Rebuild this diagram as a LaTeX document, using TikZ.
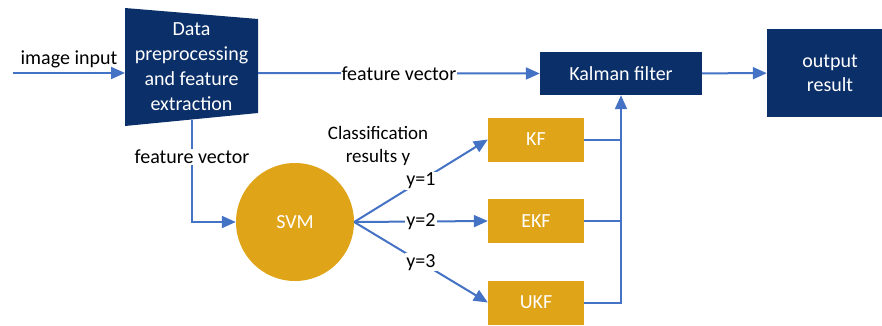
\documentclass[tikz,border=0pt]{standalone}
\usepackage{fontspec}
\setmainfont{Carlito}
\usetikzlibrary{arrows.meta}
\definecolor{navy}{HTML}{0B2F69}
\definecolor{gold}{HTML}{E0A418}
\definecolor{lineblue}{HTML}{4472C4}

\begin{document}
\begin{tikzpicture}[x=1pt,y=-1pt,
		every node/.style={font=\fontsize{20}{24}\selectfont},
		darkbox/.style={fill=navy,text=white,align=center,inner sep=0pt},
		goldbox/.style={fill=gold,text=white,minimum width=96pt,minimum height=44pt,inner sep=0pt},
		link/.style={draw=lineblue,line width=2pt},
		arr/.style={link,-{Triangle[length=14pt,width=12pt]}},
		lbl/.style={fill=white,inner sep=1pt}]
		\useasboundingbox (0,0) rectangle (882,325);
		\fill[navy] (125,8) -- (258,19) -- (258,113) -- (125,126) -- cycle;
		\node[text=white,align=center,font=\fontsize{20}{25}\selectfont] (dpfe) at (191.5,67) {Data\\preprocessing\\and feature\\extraction};
		\coordinate (imgin) at (13,73);
		\coordinate (dpin) at (125,73);
		\coordinate (dpout) at (258,73);
		\coordinate (dpbot) at (192,120);
		\node[darkbox,minimum width=162pt,minimum height=43pt] (kalman) at (621,73.5) {Kalman filter};
		\node[darkbox,minimum width=126pt,minimum height=88pt] (output) at (830,73) {output\\result};
		\node[circle,fill=gold,text=white,minimum size=118pt,inner sep=0pt] (svm) at (295,222) {SVM};
		\node[goldbox] (kf) at (536,139.5) {KF};
		\node[goldbox] (ekf) at (536,221) {EKF};
		\node[goldbox] (ukf) at (536,302.5) {UKF};
		\node[align=center,font=\fontsize{19}{23}\selectfont] (clsres) at (378,146) {Classification\\results y};
		\draw[arr] (imgin) -- node[above=1pt] {image input} (dpin);
		\draw[arr] (dpout) -- node[lbl] {feature vector} (kalman.west);
		\draw[arr] (kalman) -- (output);
		\draw[arr] (dpbot) |- node[lbl,pos=0.18] {feature vector} (svm.west);
		\draw[arr] (svm.east) -- node[lbl] {y=1} (kf.west);
		\draw[arr] (svm.east) -- node[lbl] {y=2} (ekf.west);
		\draw[arr] (svm.east) -- node[lbl] {y=3} (ukf.west);
		\draw[link] (kf.east) -- (kf.east -| kalman.south);
		\draw[link] (ekf.east) -- (ekf.east -| kalman.south);
		\draw[arr] (ukf.east) -| (kalman.south);
		\end{tikzpicture}
\end{document}
